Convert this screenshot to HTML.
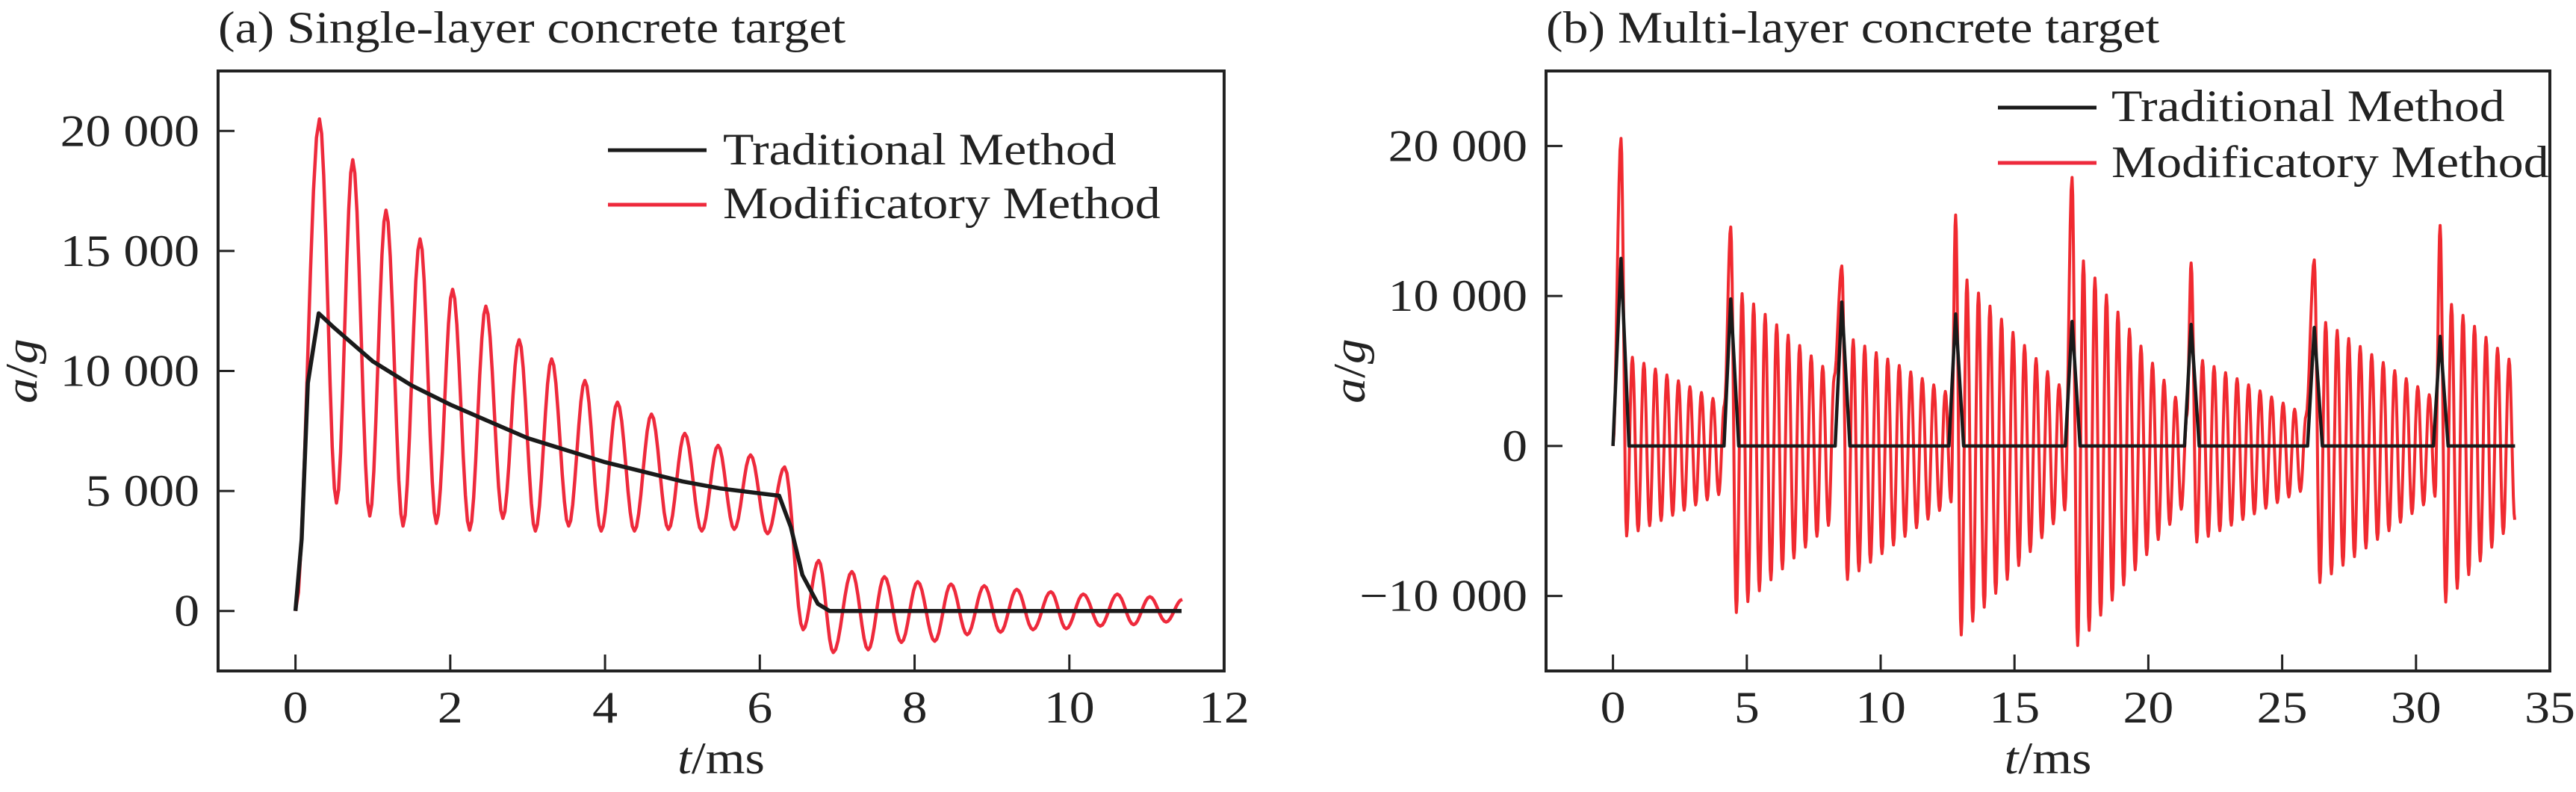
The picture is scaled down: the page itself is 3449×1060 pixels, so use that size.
<!DOCTYPE html>
<html><head><meta charset="utf-8"><style>
html,body{margin:0;padding:0;background:#fff;}
svg{display:block;}
text{font-family:"Liberation Serif","Times New Roman",serif;fill:#222;}
</style></head><body>
<svg id="fig" width="3449" height="1060" viewBox="0 0 3449 1060" xmlns="http://www.w3.org/2000/svg">
<g id="pa"></g>
<g id="pb"></g>
</svg>
<script>
// ---------- Panel (a) data ----------
const aXTicks = [0,2,4,6,8,10,12];
const aYTicks = [0,5000,10000,15000,20000];
const aYTickLabels = ["0","5 000","10 000","15 000","20 000"];
const aTradT = [0,0.08,0.16,0.3,0.5,1,1.5,2,2.5,3,3.5,4,4.5,5,5.5,6,6.25,6.4,6.55,6.75,6.9,11.45];
const aTradV = [0,3000,9500,12400,11800,10400,9400,8600,7900,7200,6700,6200,5800,5400,5100,4900,4800,3500,1500,300,0,0];
const aModT = [0,0.31,0.53,0.74,0.96,1.17,1.39,1.61,1.82,2.03,2.25,2.46,2.68,2.89,3.1,3.31,3.53,3.74,3.95,4.16,4.38,4.6,4.82,5.03,5.25,5.46,5.67,5.88,6.1,6.32,6.56,6.76,6.95,7.19,7.4,7.61,7.83,8.04,8.26,8.47,8.68,8.9,9.11,9.32,9.53,9.76,9.96,10.18,10.4,10.62,10.83,11.04,11.25,11.46];
const aModV = [0,20500,4500,18800,3960,16700,3540,15500,3650,13400,3370,12700,3860,11300,3330,10500,3540,9600,3330,8700,3330,8200,3400,7400,3330,6900,3400,6500,3220,6000,-780,2100,-1730,1640,-1620,1430,-1310,1220,-1260,1120,-990,1050,-885,900,-780,800,-740,700,-630,700,-570,590,-460,480];

// ---------- Panel (b) data ----------
const bXTicks = [0,5,10,15,20,25,30,35];
const bYTicks = [-10000,0,10000,20000];
const bYTickLabels = ["\u221210 000","0","10 000","20 000"];
const bImpactT = [0.3,4.4,8.55,12.8,17.15,21.6,26.2,30.9];
const bTradPk = [12500,9800,9600,8800,8300,8100,7900,7300];
const bSpikePk = [20500,14600,12000,15400,17900,12200,12400,14700];
const bPosFirst = [6100,10500,7300,11500,12900,5900,8500,9800];
const bPosLast = [2700,4400,3400,3400,2100,1900,3100,5400];
const bNegFirst = [-6000,-11100,-8900,-12600,-13300,-6400,-9100,-10400];
const bNegLast = [-3000,-4700,-3700,-4000,-3700,-2700,-3300,-4900];
const bEndT = 33.7;

const NS = "http://www.w3.org/2000/svg";
const stretchTexts = [];
function mk(parent, tag, attrs, txt){
  const e = document.createElementNS(NS, tag);
  for (const k in attrs) e.setAttribute(k, attrs[k]);
  if (txt !== undefined) e.textContent = txt;
  parent.appendChild(e);
  if (tag === "text") stretchTexts.push(e);
  return e;
}
function smoothPath(ts, vs, X, Y){
  let d = "M" + X(ts[0]).toFixed(1) + "," + Y(vs[0]).toFixed(1);
  for (let i=1;i<ts.length;i++){
    const n = 8;
    for (let k=1;k<=n;k++){
      const s = k/n, w = (1-Math.cos(Math.PI*s))/2;
      const t = ts[i-1] + (ts[i]-ts[i-1])*s;
      const v = vs[i-1] + (vs[i]-vs[i-1])*w;
      d += "L" + X(t).toFixed(1) + "," + Y(v).toFixed(1);
    }
  }
  return d;
}
function linePath(ts, vs, X, Y){
  return ts.map((t,i)=>(i?"L":"M")+X(t).toFixed(1)+","+Y(vs[i]).toFixed(1)).join("");
}

function drawAxes(g, box, X, Y, xt, yt, ytl, title){
  const {l,r,t,b} = box;
  const tl = mk(g,"text",{x:l,y:57,"font-size":60});
  tl.textContent = title;
  
  
  xt.forEach(v=>{
    const x = X(v);
    const tk = mk(g,"line",{x1:x,x2:x,y1:b,y2:b-22,stroke:"#222","stroke-width":3});
    
    
    const lb = mk(g,"text",{x:x,y:967,"font-size":60,"text-anchor":"middle"}, String(v));
    
    
  });
  yt.forEach((v,i)=>{
    const y = Y(v);
    const tk = mk(g,"line",{x1:l,x2:l+22,y1:y,y2:y,stroke:"#222","stroke-width":3});
    
    
    const lb = mk(g,"text",{x:l-25,y:y+20,"font-size":60,"text-anchor":"end"}, ytl[i]);
    
    
  });
  const xl = mk(g,"text",{x:(l+r)/2,y:1035,"font-size":60,"text-anchor":"middle"});
  
  
  mk(xl,"tspan",{"font-style":"italic"},"t");
  mk(xl,"tspan",{},"/ms");
  const cx = l-243, cy=(t+b)/2;
  const yl = mk(g,"text",{x:cx,y:cy,"font-size":60,"text-anchor":"middle",transform:`rotate(-90 ${cx} ${cy})`});
  
  
  mk(yl,"tspan",{"font-style":"italic"},"a");
  mk(yl,"tspan",{},"/");
  mk(yl,"tspan",{"font-style":"italic"},"g");
}
function drawFrame(g, box){
  const fr = mk(g,"rect",{x:box.l,y:box.t,width:box.r-box.l,height:box.b-box.t,fill:"none",stroke:"#222","stroke-width":4});
  
  
}
function drawLegend(g, lx1, lx2, y1, y2, tx, b1, b2){
  const l1 = mk(g,"line",{x1:lx1,x2:lx2,y1:y1,y2:y1,stroke:"#1a1a1a","stroke-width":5});
  
  
  const t1 = mk(g,"text",{x:tx,y:b1,"font-size":60},"Traditional Method");
  
  
  const l2 = mk(g,"line",{x1:lx1,x2:lx2,y1:y2,y2:y2,stroke:"#ee2a3c","stroke-width":5});
  
  
  const t2 = mk(g,"text",{x:tx,y:b2,"font-size":60},"Modificatory Method");
  
  
}

// ----- Panel A -----
(function(){
  const g = document.getElementById("pa");
  const box = {l:292,r:1639,t:95,b:898};
  const X = t => box.l + (t+1)*(box.r-box.l)/13;
  const Y = v => box.t + (22500-v)/25000*(box.b-box.t);
  drawAxes(g, box, X, Y, aXTicks, aYTicks, aYTickLabels, "(a) Single-layer concrete target");
  const m = mk(g,"path",{d:smoothPath(aModT,aModV,X,Y),fill:"none",stroke:"#ee2a3c","stroke-width":4.5,"stroke-linejoin":"round"});
  
  
  const tr = mk(g,"path",{d:linePath(aTradT,aTradV,X,Y),fill:"none",stroke:"#1a1a1a","stroke-width":5.5,"stroke-linejoin":"round"});
  
  
  drawFrame(g, box);
  drawLegend(g, 814, 946, 201, 274, 968, 220, 292);
})();

// ----- Panel B -----
(function(){
  const g = document.getElementById("pb");
  const box = {l:2070,r:3414,t:95,b:898};
  const X = t => box.l + (t+2.5)*(box.r-box.l)/37.5;
  const Y = v => box.t + (25000-v)/40000*(box.b-box.t);
  drawAxes(g, box, X, Y, bXTicks, bYTicks, bYTickLabels, "(b) Multi-layer concrete target");
  const mt=[0], mv=[0], tt=[0], tv=[0];
  const half = 0.215;
  for (let i=0;i<bImpactT.length;i++){
    const ti = bImpactT[i];
    const end = i+1<bImpactT.length ? bImpactT[i+1]-0.15 : bEndT;
    mt.push(ti); mv.push(bSpikePk[i]);
    const s0 = ti+0.21;
    let k=0;
    for (let t=s0; t<=end; t+=half, k++){
      const f = (t-s0)/(end-s0);
      const neg = (k%2===0);
      const v = neg ? bNegFirst[i]+(bNegLast[i]-bNegFirst[i])*f : bPosFirst[i]+(bPosLast[i]-bPosFirst[i])*f;
      mt.push(t); mv.push(v);
    }
    if (i>0){ tt.push(ti-0.25); tv.push(0); }
    tt.push(ti); tv.push(bTradPk[i]);
    tt.push(ti+0.3); tv.push(0);
  }
  tt.push(bEndT); tv.push(0);
  const m = mk(g,"path",{d:smoothPath(mt,mv,X,Y),fill:"none",stroke:"#f02a30","stroke-width":4,"stroke-linejoin":"round"});
  
  
  const tr = mk(g,"path",{d:linePath(tt,tv,X,Y),fill:"none",stroke:"#1a1a1a","stroke-width":4.5,"stroke-linejoin":"round"});
  
  
  drawFrame(g, box);
  drawLegend(g, 2675, 2807, 144, 218, 2827, 162, 237);
})();

// widen text horizontally to match the reference typeface proportions
stretchTexts.forEach(t=>{
  try{
    const w = t.getComputedTextLength();
    if (w>0){
      t.setAttribute("textLength", (w*1.13).toFixed(1));
      t.setAttribute("lengthAdjust","spacingAndGlyphs");
    }
  }catch(e){}
});
</script>
</body></html>
